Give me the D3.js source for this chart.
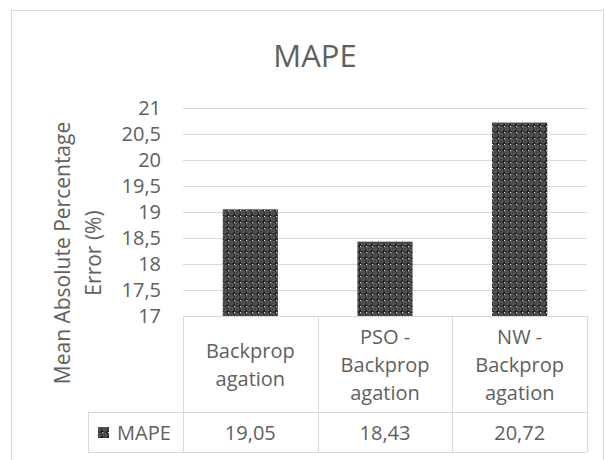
<!DOCTYPE html>
<html>
<head>
<meta charset="utf-8">
<script src="https://cdn.jsdelivr.net/npm/d3@7"></script>
<style>
  html, body { margin: 0; padding: 0; background: #fff; }
  svg text { font-family: "Open Sans", sans-serif; font-weight: 400; fill: #606060; }
</style>
</head>
<body>
<svg id="chart" width="605" height="460"></svg>
<script>
const chartTitle = "MAPE";
const categories = [["Backprop", "agation"], ["PSO -", "Backprop", "agation"], ["NW -", "Backprop", "agation"]];
const categoryKeys = ["Backpropagation", "PSO - Backpropagation", "NW - Backpropagation"];
const seriesName = "MAPE";
const values = [19.05, 18.43, 20.72];
const valueLabels = ["19,05", "18,43", "20,72"];
const yTicks = [17, 17.5, 18, 18.5, 19, 19.5, 20, 20.5, 21];
const yTickLabels = ["17", "17,5", "18", "18,5", "19", "19,5", "20", "20,5", "21"];
const yTitleLines = ["Mean Absolute Percentage", "Error (%)"];

const svg = d3.select("#chart");

// pattern
const defs = svg.append("defs");
const pat = defs.append("pattern").attr("id", "checker")
  .attr("patternUnits", "userSpaceOnUse").attr("width", 6).attr("height", 6);
pat.append("rect").attr("width", 6).attr("height", 6).attr("fill", "#262626");
pat.append("circle").attr("cx", 3).attr("cy", 3).attr("r", 2)
  .attr("fill", "none").attr("stroke", "#8a8a8a").attr("stroke-width", 0.7);
pat.append("rect").attr("x", 0).attr("y", 0).attr("width", 1.2).attr("height", 1.2).attr("fill", "#e6e6e6");
pat.append("rect").attr("x", 2.6).attr("y", 2.6).attr("width", 0.9).attr("height", 0.9).attr("fill", "#c8c8c8");

// frame
svg.append("rect").attr("x", 11.5).attr("y", 10.5).attr("width", 592).attr("height", 460)
  .attr("fill", "#fff").attr("stroke", "#d9d9d9").attr("stroke-width", 1);

// title
svg.append("text").attr("x", 315).attr("y", 67).attr("text-anchor", "middle")
  .style("font-size", "31px").text(chartTitle);

const plotLeft = 183, plotRight = 587;
const y = d3.scaleLinear().domain([17, 21]).range([316, 108]);
const x = d3.scaleBand().domain(categoryKeys).range([plotLeft, plotRight]).paddingInner(0.59).paddingOuter(0.295);
const xCol = d3.scaleBand().domain(categoryKeys).range([plotLeft, plotRight]);

// gridlines
svg.append("g").selectAll("line").data(yTicks.filter(t => t > 17)).join("line")
  .attr("x1", plotLeft).attr("x2", plotRight)
  .attr("y1", d => Math.round(y(d)) + 0.5).attr("y2", d => Math.round(y(d)) + 0.5)
  .attr("stroke", "#d9d9d9").attr("stroke-width", 1);

// y tick labels
svg.append("g").selectAll("text").data(yTicks).join("text")
  .attr("x", 161).attr("y", d => y(d)).attr("dy", "0.35em")
  .attr("text-anchor", "end").style("font-size", "20px")
  .text((d, i) => yTickLabels[i]);

// y title
const yt = svg.append("text").attr("transform", "translate(0,253) rotate(-90)")
  .attr("text-anchor", "middle").style("font-size", "21px");
yt.selectAll("tspan").data(yTitleLines).join("tspan")
  .attr("x", 0).attr("y", (d, i) => 70 + i * 31).text(d => d);

// bars
svg.append("g").selectAll("rect").data(values).join("rect")
  .attr("x", (d, i) => x(categoryKeys[i])).attr("width", x.bandwidth())
  .attr("y", d => y(d)).attr("height", d => y(17) - y(d))
  .attr("fill", "url(#checker)");

// data table
const tableTop = y(17), row1Bottom = 412, row2Bottom = 452, legendLeft = 88;
const tbl = svg.append("g").attr("stroke", "#d9d9d9").attr("stroke-width", 1).attr("fill", "none");
tbl.append("line").attr("x1", plotLeft).attr("x2", plotRight).attr("y1", tableTop + 0.5).attr("y2", tableTop + 0.5);
tbl.append("line").attr("x1", legendLeft).attr("x2", plotRight).attr("y1", row1Bottom + 0.5).attr("y2", row1Bottom + 0.5);
tbl.append("line").attr("x1", legendLeft).attr("x2", plotRight).attr("y1", row2Bottom + 0.5).attr("y2", row2Bottom + 0.5);
tbl.append("line").attr("x1", legendLeft + 0.5).attr("x2", legendLeft + 0.5).attr("y1", row1Bottom).attr("y2", row2Bottom);
const colEdges = categoryKeys.map(k => xCol(k)).concat([plotRight]);
tbl.selectAll("line.v").data(colEdges).join("line").attr("class", "v")
  .attr("x1", d => Math.round(d) + 0.5).attr("x2", d => Math.round(d) + 0.5)
  .attr("y1", tableTop).attr("y2", row2Bottom);

// category labels
const rowMid = (tableTop + row1Bottom) / 2 + 1;
const lh = 28;
categories.forEach((lines, i) => {
  const cx = xCol(categoryKeys[i]) + xCol.bandwidth() / 2;
  const t = svg.append("text").attr("text-anchor", "middle").style("font-size", "20px");
  lines.forEach((l, j) => {
    t.append("tspan").attr("x", cx)
      .attr("y", rowMid + (j - (lines.length - 1) / 2) * lh).attr("dy", "0.35em").text(l);
  });
});

// values row
const valMid = (row1Bottom + row2Bottom) / 2 + 1;
svg.append("g").selectAll("text").data(valueLabels).join("text")
  .attr("x", (d, i) => xCol(categoryKeys[i]) + xCol.bandwidth() / 2)
  .attr("y", valMid).attr("dy", "0.35em").attr("text-anchor", "middle")
  .style("font-size", "20px").text(d => d);

// legend key
svg.append("rect").attr("x", 98).attr("y", valMid - 6).attr("width", 11).attr("height", 11)
  .attr("fill", "url(#checker)");
svg.append("text").attr("x", 117).attr("y", valMid).attr("dy", "0.35em")
  .style("font-size", "20px").text(seriesName);
</script>
</body>
</html>
